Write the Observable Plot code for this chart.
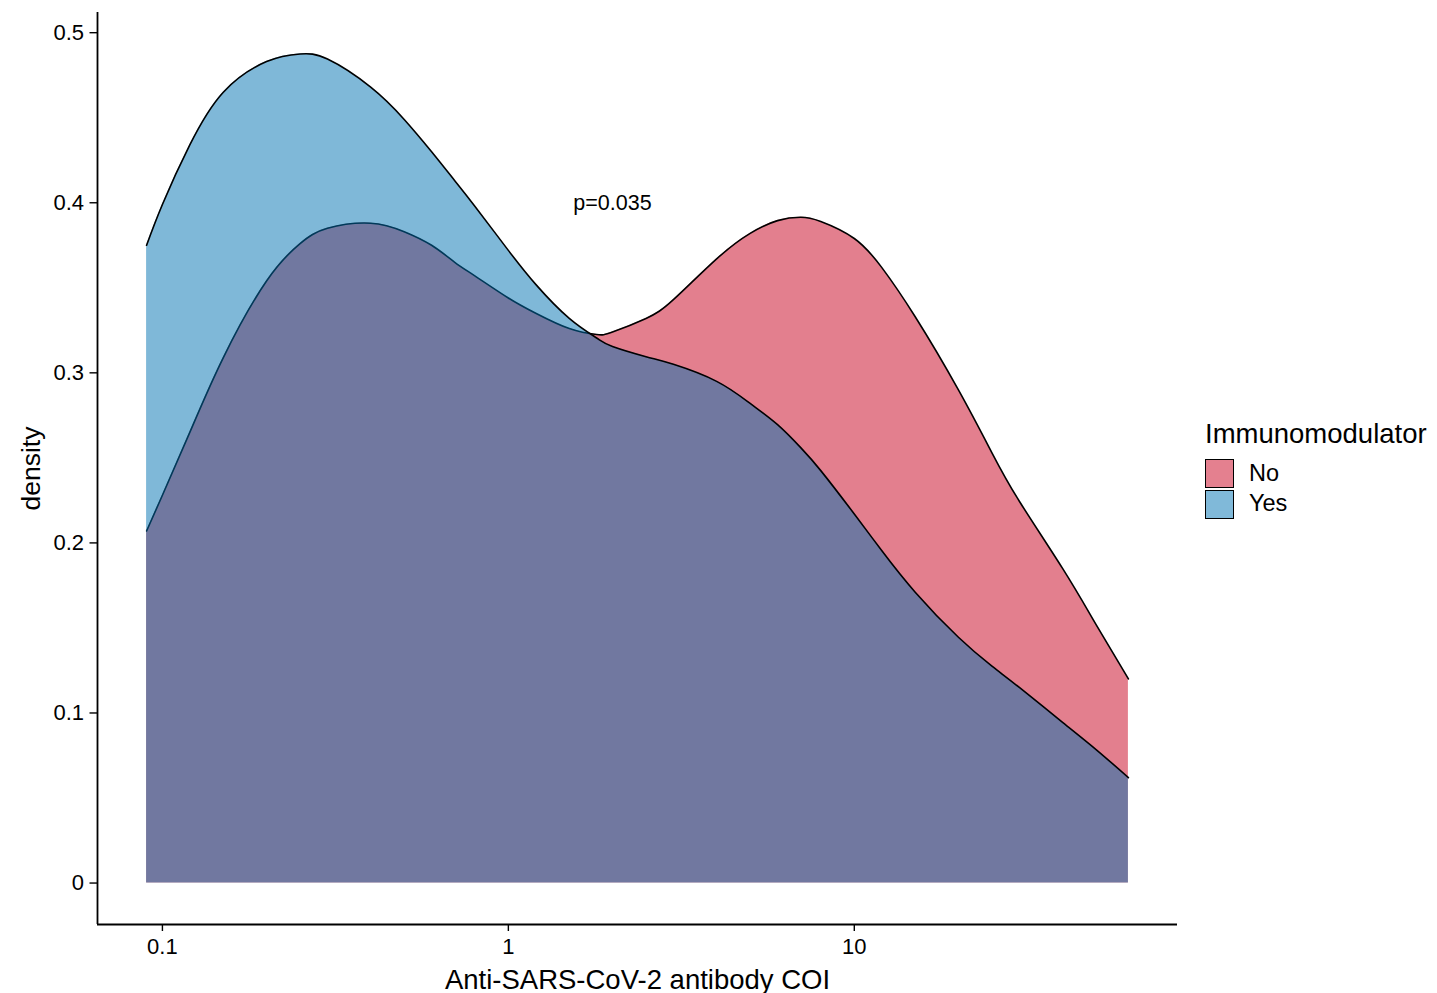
<!DOCTYPE html>
<html>
<head>
<meta charset="utf-8">
<script src="https://cdn.jsdelivr.net/npm/d3@7"></script>
<script src="https://cdn.jsdelivr.net/npm/@observablehq/plot@0.6"></script>
<style>
  html, body { margin: 0; padding: 0; background: #fff; }
  #wrap { position: relative; width: 1437px; height: 993px; overflow: hidden; font-family: "Liberation Sans", Arial, sans-serif; }
  #wrap svg { position: absolute; left: 0; top: 0; }
  #legend { position: absolute; left: 1205px; top: 0; color: #000; }
  #legend .ltitle { position: absolute; left: 0; top: 419.7px; font-size: 27.5px; line-height: 27.5px; white-space: nowrap; }
  #legend .key { position: absolute; left: 0; width: 28.5px; height: 28.5px; box-sizing: border-box; border: 1.6px solid #000; }
  #legend .lab { position: absolute; left: 44px; font-size: 23.5px; line-height: 23.5px; white-space: nowrap; }
</style>
</head>
<body>
<div id="wrap"></div>
<script>
// ---- data ----
const xValues   = [0.09, 0.1, 0.12, 0.15, 0.2, 0.25, 0.3, 0.4, 0.5, 0.6, 0.7, 0.8, 1.0, 1.2, 1.5, 1.8, 2.0, 2.5, 3, 4, 5, 6, 7, 8, 10, 12, 15, 20, 25, 30, 40, 50, 62];
const densityNo = [0.207, 0.228, 0.265, 0.309, 0.354, 0.376, 0.385, 0.388, 0.383, 0.375, 0.365, 0.357, 0.344, 0.335, 0.326, 0.3225, 0.324, 0.332, 0.343, 0.367, 0.382, 0.3895, 0.3915, 0.389, 0.379, 0.362, 0.333, 0.290, 0.253, 0.2245, 0.185, 0.152, 0.120];
const densityYes= [0.375, 0.399, 0.434, 0.465, 0.483, 0.4875, 0.4845, 0.468, 0.449, 0.430, 0.413, 0.398, 0.372, 0.352, 0.332, 0.3205, 0.3155, 0.3095, 0.305, 0.295, 0.282, 0.2695, 0.256, 0.2425, 0.217, 0.1955, 0.171, 0.1445, 0.1275, 0.115, 0.0945, 0.0785, 0.062];
const groups      = ["No", "Yes"];
const groupColors = ["#C8001E", "#0072B2"];
const xTicks = [0.1, 1, 10];
const yTicks = [0, 0.1, 0.2, 0.3, 0.4, 0.5];
const annotationText = ["p=0.035"];
const annotationPos  = [2, 0.4];
const xTitle = "Anti-SARS-CoV-2 antibody COI";
const yTitle = "density";
const legendTitle = "Immunomodulator";

const W = 1437, H = 993;
const table = xValues.map((x, i) => ({x, No: densityNo[i], Yes: densityYes[i]}));

// ggplot-like 5% expansion of the data range
const lo = Math.log10(d3.min(xValues)), hi = Math.log10(d3.max(xValues));
const padX = 0.05 * (hi - lo);
const xDomain = [Math.pow(10, lo - padX), Math.pow(10, hi + padX)];
const maxY = d3.max([...densityNo, ...densityYes]);
const yDomain = [-0.05 * maxY, 1.05 * maxY];

const curve = "natural";
const marks = [];
groups.forEach((g, i) => {
  marks.push(Plot.areaY(table, {x: "x", y: g, fill: groupColors[i], fillOpacity: 0.5, curve}));
  marks.push(Plot.lineY(table, {x: "x", y: g, stroke: "#000", strokeWidth: 1.6, curve}));
});

const plot = Plot.plot({
  width: W,
  height: H,
  marginLeft: 97,
  marginRight: 260,
  marginTop: 12,
  marginBottom: 69,
  style: {fontFamily: "Liberation Sans, Arial, sans-serif", background: "#fff", color: "#000"},
  x: {type: "log", domain: xDomain},
  y: {domain: yDomain},
  marks: [
    ...marks,
    Plot.text(annotationText, {x: () => annotationPos[0], y: () => annotationPos[1], text: d => d, fontSize: 21.5, fill: "#000", textAnchor: "middle", lineAnchor: "middle"}),
    Plot.ruleX([xDomain[0]], {stroke: "#000", strokeWidth: 1.8}),
    Plot.ruleY([yDomain[0]], {stroke: "#000", strokeWidth: 1.8}),
    Plot.axisX({ticks: xTicks, tickFormat: d3.format("~g"), tickSize: 7, tickPadding: 7, fontSize: 22, strokeWidth: 1.4, label: null}),
    Plot.axisY({ticks: yTicks, tickFormat: d3.format("~g"), tickSize: 7.5, tickPadding: 6, fontSize: 22, strokeWidth: 1.4, label: null}),
    Plot.text([xTitle], {frameAnchor: "bottom", dy: 64, textAnchor: "middle", lineAnchor: "bottom", text: d => d, fontSize: 27.5, fill: "#000"}),
    Plot.text([yTitle], {frameAnchor: "left", dx: -76, rotate: -90, textAnchor: "middle", lineAnchor: "top", text: d => d, fontSize: 26.5, fill: "#000"})
  ]
});

plot.style.maxWidth = "none";
const wrap = document.getElementById("wrap");
wrap.appendChild(plot);

// ---- legend ----
const legend = document.createElement("div");
legend.id = "legend";
const t = document.createElement("div");
t.className = "ltitle";
t.textContent = legendTitle;
legend.appendChild(t);
const keyTops = [459, 490];
const labTops = [461.8, 492.1];
groups.forEach((g, i) => {
  const k = document.createElement("div");
  k.className = "key";
  k.style.top = keyTops[i] + "px";
  k.style.background = d3.interpolateRgb("#fff", groupColors[i])(0.5);
  legend.appendChild(k);
  const l = document.createElement("div");
  l.className = "lab";
  l.style.top = labTops[i] + "px";
  l.textContent = g;
  legend.appendChild(l);
});
wrap.appendChild(legend);
</script>
</body>
</html>
